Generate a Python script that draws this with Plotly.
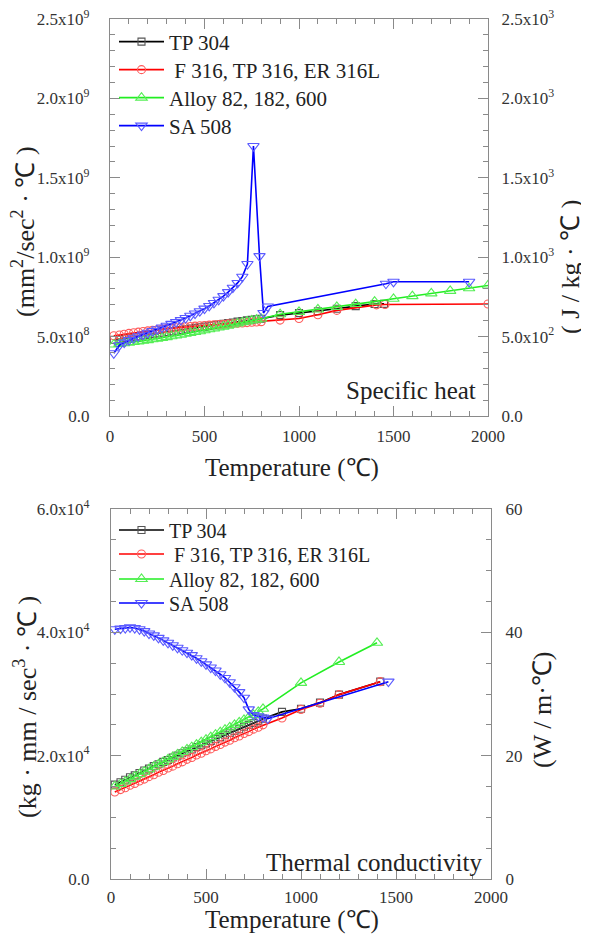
import plotly.graph_objects as go

# ---------------- data ----------------
SERIES = ["TP 304", " F 316, TP 316, ER 316L", "Alloy 82, 182, 600", "SA 508"]

T_DENSE = [20, 50, 75, 100, 125, 150, 175, 200, 225, 250, 275, 300, 325, 350, 375, 400,
           425, 450, 475, 500, 525, 550, 575, 600, 625, 650, 675, 700, 725, 750, 775, 800]

# Specific heat (J/kg.C)
cp_tp304_T = T_DENSE + [900, 1000, 1100, 1200, 1300, 1400, 1450]
cp_tp304 = [480, 484, 489, 493, 498, 502, 507, 511, 516, 520, 524, 529, 533, 537, 542, 546,
            550, 555, 559, 563, 568, 572, 576, 581, 585, 589, 594, 598, 602, 606, 609, 612,
            635, 648, 660, 675, 692, 705, 706]

cp_f316_T = T_DENSE + [900, 1000, 1100, 1200, 1410, 1455, 2000]
cp_f316 = [505, 510, 515, 520, 524, 528, 532, 536, 540, 543, 547, 550, 553, 556, 559, 562,
           564, 566, 568, 570, 572, 574, 576, 578, 580, 582, 584, 586, 588, 590, 592, 594,
           604, 614, 638, 665, 700, 702, 705]

cp_alloy_T = T_DENSE + [900, 1000, 1100, 1200, 1300, 1400, 1500, 1600, 1700, 1800, 1900, 2000]
cp_alloy = [450, 454, 458, 462, 466, 470, 474, 478, 483, 487, 492, 497, 502, 507, 512, 518,
            523, 529, 534, 540, 546, 551, 557, 563, 569, 576, 583, 590, 596, 602, 607, 612,
            641, 656, 671, 687, 705, 720, 738, 755, 772, 788, 804, 822]

cp_sa508_T = [20, 50, 75, 100, 125, 150, 175, 200, 225, 250, 275, 300, 325, 350, 375, 400,
              425, 450, 475, 500, 525, 550, 575, 600, 625, 650, 675, 700, 727, 759, 791, 812,
              835, 1460, 1500, 1900]
cp_sa508 = [395, 446, 462, 478, 490, 502, 513, 524, 535, 546, 557, 568, 580, 592, 604, 617,
            631, 645, 660, 676, 693, 712, 732, 755, 780, 808, 838, 877, 957, 1700, 1007, 649,
            690, 833, 845, 845]

# Thermal conductivity (W/m.C)
k_tp304_T = T_DENSE + [900, 1000, 1100, 1200, 1417]
k_tp304 = [15.3, 15.7, 16.1, 16.5, 16.8, 17.2, 17.6, 17.9, 18.3, 18.6, 19.0, 19.3, 19.7, 20.0,
           20.4, 20.7, 21.0, 21.4, 21.7, 22.0, 22.4, 22.7, 23.0, 23.4, 23.7, 24.0, 24.3, 24.7,
           25.0, 25.3, 25.6, 26.0, 27.1, 27.6, 28.6, 29.9, 32.0]

k_f316_T = T_DENSE + [900, 1000, 1100, 1200, 1417]
k_f316 = [14.1, 14.5, 14.8, 15.2, 15.5, 15.9, 16.2, 16.6, 16.9, 17.3, 17.6, 18.0, 18.3, 18.7,
          19.0, 19.4, 19.7, 20.1, 20.4, 20.8, 21.1, 21.5, 21.8, 22.2, 22.5, 22.9, 23.2, 23.6,
          23.9, 24.3, 24.6, 25.0, 26.1, 27.5, 28.5, 29.9, 32.0]

k_alloy_T = T_DENSE + [1000, 1200, 1400]
k_alloy = [15.0, 15.4, 15.8, 16.2, 16.6, 17.0, 17.4, 17.8, 18.2, 18.6, 19.0, 19.4, 19.8, 20.2,
           20.6, 21.0, 21.4, 21.8, 22.2, 22.6, 23.0, 23.4, 23.8, 24.2, 24.6, 25.0, 25.4, 25.8,
           26.2, 26.6, 27.1, 27.6, 31.8, 35.2, 38.3]

k_sa508_T = T_DENSE + [825, 1460]
k_sa508 = [40.5, 40.6, 40.7, 40.8, 40.7, 40.5, 40.2, 39.8, 39.5, 39.1, 38.7, 38.3, 37.9, 37.5,
           37.1, 36.7, 36.3, 35.8, 35.3, 34.8, 34.3, 33.8, 33.2, 32.6, 31.9, 31.1, 30.3, 29.4,
           27.5, 26.6, 26.4, 26.2, 26.0, 32.0]

# unit conversions for left axes
CP_TO_MM = 1e6      # J/kg.C  -> mm^2/sec^2.C
K_TO_MM = 1e3       # W/m.C   -> kg.mm/sec^3.C

X_TICKS = [0, 500, 1000, 1500, 2000]
CP_LEFT_VALS = [0, 5e8, 1e9, 1.5e9, 2e9, 2.5e9]
CP_LEFT_TEXT = ["0.0", "5.0x10<sup>8</sup>", "1.0x10<sup>9</sup>", "1.5x10<sup>9</sup>",
                "2.0x10<sup>9</sup>", "2.5x10<sup>9</sup>"]
CP_RIGHT_VALS = [0, 500, 1000, 1500, 2000, 2500]
CP_RIGHT_TEXT = ["0.0", "5.0x10<sup>2</sup>", "1.0x10<sup>3</sup>", "1.5x10<sup>3</sup>",
                 "2.0x10<sup>3</sup>", "2.5x10<sup>3</sup>"]
K_LEFT_VALS = [0, 2e4, 4e4, 6e4]
K_LEFT_TEXT = ["0.0", "2.0x10<sup>4</sup>", "4.0x10<sup>4</sup>", "6.0x10<sup>4</sup>"]
K_RIGHT_VALS = [0, 20, 40, 60]

# ---------------- style ----------------
W, H = 589, 942
OX, OY = 8, 8          # page body margin offsets the figure in the window
FONT = "Liberation Serif, Times New Roman, serif"
AX = "#8a8a8a"
LINE_COLORS = ["#000000", "#ff0000", "#22ee22", "#0000ff"]
MARK_COLORS = ["#555555", "#ff5a5a", "#55ee55", "#5a5aff"]
SYMBOLS = ["square-open", "circle-open", "triangle-up-open", "triangle-down-open"]
SIZES = [7, 8, 10, 10]
TOP_ROWS = [42, 70, 98, 126]
BOT_ROWS = [530, 554, 579, 603]


def fx(p):
    return (p - OX) / W


def fy(p):
    return 1 - (p - OY) / H


fig = go.Figure()

top = [(cp_tp304_T, cp_tp304), (cp_f316_T, cp_f316), (cp_alloy_T, cp_alloy), (cp_sa508_T, cp_sa508)]
bot = [(k_tp304_T, k_tp304), (k_f316_T, k_f316), (k_alloy_T, k_alloy), (k_sa508_T, k_sa508)]

for i, (xs, ys) in enumerate(top):
    fig.add_trace(go.Scatter(
        x=xs, y=[v * CP_TO_MM for v in ys], xaxis="x", yaxis="y", mode="lines+markers",
        name=SERIES[i], legend="legend" if i == 0 else f"legend{i + 1}",
        line=dict(color=LINE_COLORS[i], width=1.6),
        marker=dict(symbol=SYMBOLS[i], size=SIZES[i], color=MARK_COLORS[i],
                    line=dict(width=1.1, color=MARK_COLORS[i]))))
# same series in J/kg.C registered on the right-hand axis (not drawn)
for i, (xs, ys) in enumerate(top):
    fig.add_trace(go.Scatter(x=xs, y=ys, xaxis="x", yaxis="y2", visible=False,
                             showlegend=False))

for i, (xs, ys) in enumerate(bot):
    fig.add_trace(go.Scatter(
        x=xs, y=[v * K_TO_MM for v in ys], xaxis="x2", yaxis="y3", mode="lines+markers",
        name=SERIES[i], legend=f"legend{i + 5}",
        line=dict(color=LINE_COLORS[i], width=1.6),
        marker=dict(symbol=SYMBOLS[i], size=SIZES[i], color=MARK_COLORS[i],
                    line=dict(width=1.1, color=MARK_COLORS[i]))))
for i, (xs, ys) in enumerate(bot):
    fig.add_trace(go.Scatter(x=xs, y=ys, xaxis="x2", yaxis="y4", visible=False,
                             showlegend=False))

tickfont = dict(family=FONT, size=17, color="#333333")
base = dict(showline=True, linecolor=AX, linewidth=1.3, ticks="inside", tickcolor=AX,
            ticklen=10, tickwidth=1.2, showgrid=False, zeroline=False, tickfont=tickfont,
            automargin=False, ticklabeloverflow="allow")


def minor(d):
    return dict(dtick=d, tick0=0, ticks="inside", ticklen=5, tickcolor=AX, tickwidth=1.1)


top_dom_x = [fx(110), fx(488)]
top_dom_y = [fy(416), fy(19)]
bot_dom_x = [fx(111), fx(491)]
bot_dom_y = [fy(879), fy(509)]

layout = dict(
    width=W, height=H, margin=dict(l=0, r=0, t=0, b=0, pad=0, autoexpand=False),
    paper_bgcolor="white", plot_bgcolor="white", showlegend=True,
    font=dict(family=FONT, color="#222222"),
    xaxis=dict(base, domain=top_dom_x, anchor="y", range=[0, 2000], tickvals=X_TICKS,
               minor=minor(100), mirror="ticks", ticklabelstandoff=4),
    yaxis=dict(base, domain=top_dom_y, anchor="x", range=[0, 2.5e9], tickvals=CP_LEFT_VALS,
               ticktext=CP_LEFT_TEXT, minor=minor(1e8), ticklabelstandoff=16),
    yaxis2=dict(base, overlaying="y", anchor="x", side="right", range=[0, 2500],
                tickvals=CP_RIGHT_VALS, ticktext=CP_RIGHT_TEXT, minor=minor(100),
                ticklabelstandoff=9),
    xaxis2=dict(base, domain=bot_dom_x, anchor="y3", range=[0, 2000], tickvals=X_TICKS,
                minor=minor(100), mirror="ticks", ticklabelstandoff=2),
    yaxis3=dict(base, domain=bot_dom_y, anchor="x2", range=[0, 6e4], tickvals=K_LEFT_VALS,
                ticktext=K_LEFT_TEXT, minor=minor(5e3), ticklabelstandoff=17),
    yaxis4=dict(base, overlaying="y3", anchor="x2", side="right", range=[0, 60],
                tickvals=K_RIGHT_VALS, minor=minor(5), ticklabelstandoff=10),
)
for j in range(8):
    key = "legend" if j == 0 else f"legend{j + 1}"
    row = TOP_ROWS[j] if j < 4 else BOT_ROWS[j - 4]
    layout[key] = dict(x=fx(114), y=fy(row), xanchor="left", yanchor="middle",
                       bgcolor="rgba(0,0,0,0)", itemwidth=45,
                       font=dict(family=FONT, size=21 if j < 4 else 20, color="#222222"))
fig.update_layout(**layout)

title_font = dict(family=FONT, size=25, color="#222222")
side_font = dict(family=FONT, size=26, color="#222222")
ann = [
    dict(text="Temperature (℃)", x=fx(292), y=fy(468), textangle=0, font=title_font),
    dict(text="Temperature (℃)", x=fx(292), y=fy(920), textangle=0, font=title_font),
    dict(text="(mm<sup>2</sup>/sec<sup>2</sup> · ℃ )", x=fx(24), y=fy(232), textangle=-90,
         font=side_font),
    dict(text="( J / kg · ℃ )", x=fx(570), y=fy(267), textangle=-90, font=side_font),
    dict(text="(kg · mm / sec<sup>3</sup> · ℃ )", x=fx(25), y=fy(707), textangle=-90,
         font=side_font),
    dict(text="(W / m·℃)", x=fx(542), y=fy(710), textangle=-90, font=side_font),
]
for a in ann:
    fig.add_annotation(xref="paper", yref="paper", showarrow=False,
                       xanchor="center", yanchor="middle", **a)

fig.add_annotation(text="Specific heat", xref="paper", yref="paper", x=fx(478), y=fy(390),
                   xanchor="right", yanchor="middle", showarrow=False, font=title_font)
fig.add_annotation(text="Thermal conductivity", xref="paper", yref="paper", x=fx(484),
                   y=fy(862), xanchor="right", yanchor="middle", showarrow=False,
                   font=title_font)

fig.write_html("out.html")
